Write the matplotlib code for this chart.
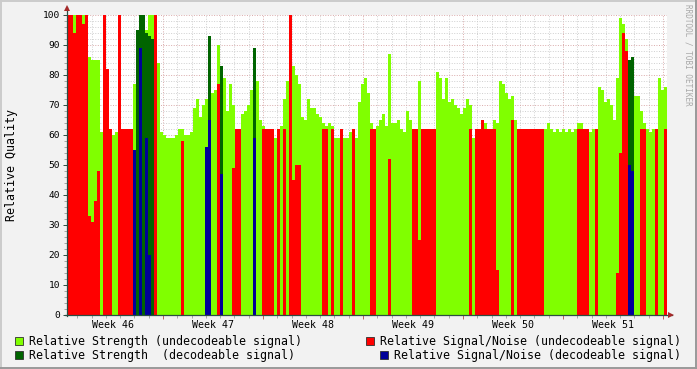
import numpy as np
import matplotlib
matplotlib.use("Agg")
import matplotlib.pyplot as plt
from matplotlib.lines import Line2D
from matplotlib.patches import Rectangle

W, H = 697, 369

# one value per column (~5 h), week 46 .. week 51
strength_undec = [
    100, 100, 100, 100, 100, 100, 100, 86, 85, 85,
    85, 61, 62, 0, 0, 60, 61, 0, 0, 0,
    0, 0, 77, 79, 90, 92, 95, 100, 100, 0,
    84, 61, 60, 59, 59, 59, 60, 62, 62, 60,
    60, 61, 69, 72, 66, 70, 72, 77, 74, 75,
    90, 80, 79, 68, 77, 70, 0, 0, 67, 68,
    70, 75, 78, 78, 65, 63, 0, 0, 0, 59,
    0, 63, 72, 78, 0, 83, 80, 77, 66, 65,
    72, 69, 69, 67, 66, 64, 63, 64, 63, 59,
    59, 0, 59, 59, 61, 0, 59, 71, 77, 79,
    74, 64, 0, 63, 65, 67, 63, 87, 64, 64,
    65, 62, 61, 68, 65, 62, 60, 78, 0, 0,
    0, 0, 0, 81, 79, 72, 79, 71, 72, 70,
    69, 67, 69, 72, 70, 59, 0, 0, 0, 64,
    0, 0, 65, 64, 78, 77, 74, 72, 73, 65,
    0, 0, 0, 0, 0, 0, 0, 0, 0, 62,
    64, 62, 61, 62, 61, 62, 61, 62, 61, 62,
    64, 64, 62, 0, 61, 62, 61, 76, 75, 71,
    72, 70, 65, 79, 99, 97, 92, 0, 0, 73,
    73, 68, 64, 62, 61, 62, 62, 79, 75, 76,
]
snr_undec = [
    100, 100, 94, 100, 100, 97, 100, 33, 31, 38,
    48, 0, 100, 82, 62, 0, 0, 100, 62, 62,
    62, 62, 0, 0, 0, 0, 0, 0, 0, 100,
    0, 0, 0, 0, 0, 0, 0, 0, 58, 0,
    0, 0, 0, 0, 0, 0, 0, 0, 0, 0,
    77, 0, 0, 0, 0, 49, 62, 62, 0, 0,
    0, 0, 0, 0, 0, 62, 62, 62, 62, 0,
    62, 0, 62, 0, 100, 45, 50, 50, 0, 0,
    0, 0, 0, 0, 0, 62, 62, 0, 62, 0,
    0, 62, 0, 0, 0, 62, 0, 0, 0, 0,
    0, 62, 62, 0, 0, 0, 0, 52, 0, 0,
    0, 0, 0, 0, 0, 62, 62, 25, 62, 62,
    62, 62, 62, 0, 0, 0, 0, 0, 0, 0,
    0, 0, 0, 0, 62, 0, 62, 62, 65, 62,
    62, 62, 62, 15, 0, 0, 0, 0, 65, 0,
    62, 62, 62, 62, 62, 62, 62, 62, 62, 0,
    0, 0, 0, 0, 0, 0, 0, 0, 0, 0,
    62, 62, 62, 62, 0, 0, 62, 0, 0, 0,
    0, 0, 0, 14, 54, 94, 88, 0, 0, 0,
    0, 62, 62, 0, 0, 0, 62, 0, 0, 62,
]
strength_dec = [0] * 200
snr_dec = [0] * 200
for i, v in {23: 95, 24: 100, 25: 100, 26: 94, 27: 93, 28: 92,
             47: 93, 51: 83, 62: 89, 187: 85, 188: 86}.items():
    strength_dec[i] = v
for i, v in {22: 55, 24: 89, 26: 59, 27: 20,
             46: 56, 47: 65, 51: 47, 62: 59, 187: 50, 188: 48}.items():
    snr_dec[i] = v

week_labels = ["Week 46", "Week 47", "Week 48", "Week 49", "Week 50", "Week 51"]
series_labels = [
    "Relative Strength (undecodeable signal)",
    "Relative Signal/Noise (undecodeable signal)",
    "Relative Strength  (decodeable signal)",
    "Relative Signal/Noise (decodeable signal)",
]
colors = ["#80FF00", "#FF0000", "#006400", "#000099"]

MONO = "DejaVu Sans Mono"
STEP = 0.21   # days per column
T0 = 0.28     # left edge, days after monday of week 46
edges = T0 + STEP * np.arange(len(strength_undec) + 1)


def fx(px):
    return px / W


def fy(py):
    return 1 - py / H


fig = plt.figure(figsize=(W / 100, H / 100), dpi=100, facecolor="#F2F2F2")
ax = fig.add_axes([fx(67), fy(315), 600 / W, 300 / H])
ax.set_facecolor("white")

for vals, c in zip([strength_undec, snr_undec, strength_dec, snr_dec], colors):
    ax.stairs(vals, edges, fill=True, color=c, lw=0)

ax.set_xlim(T0, T0 + 42)
ax.set_ylim(0, 100)
ax.set_axisbelow(True)

ax.set_xticks(np.arange(7, 43, 7))
ax.set_xticks(np.arange(1, 43, 1), minor=True)
ax.set_xticklabels([])
ax.set_yticks(np.arange(0, 101, 10))
ax.set_yticks(np.arange(0, 101, 2), minor=True)
ax.set_yticklabels([str(v) for v in range(0, 101, 10)], family=MONO, fontsize=6.8)

dots = (0, (1, 1.6))
ax.grid(which="minor", color="#CFCFCF", ls=dots, lw=0.7)
ax.grid(which="major", color="#D9A9A9", ls=dots, lw=0.7)

ax.tick_params(axis="y", which="major", length=3, width=0.7, color="#2C4D43", pad=2)
ax.tick_params(axis="y", which="minor", length=2, width=0.6, color="#9A9A9A")
ax.tick_params(axis="x", which="major", length=3, width=0.7, color="#C06060")
ax.tick_params(axis="x", which="minor", length=2, width=0.6, color="#9A9A9A")
for s in ax.spines.values():
    s.set_visible(False)

for k, lab in enumerate(week_labels):
    ax.text(3.5 + 7 * k, -0.033, lab, transform=ax.get_xaxis_transform(),
            ha="center", va="center", family=MONO, fontsize=7.2)

# axes with arrows
axis_col = "#2C4D43"
fig.add_artist(Line2D([fx(67), fx(67)], [fy(316), fy(7)], color=axis_col, lw=0.9))
fig.add_artist(Line2D([fx(65), fx(672)], [fy(315), fy(315)], color=axis_col, lw=0.9))
fig.add_artist(Line2D([fx(67)], [fy(8)], marker="^", ms=5, color="#A52A2A", mew=0))
fig.add_artist(Line2D([fx(671)], [fy(315)], marker=">", ms=5, color="#A52A2A", mew=0))

fig.text(fx(12), fy(165), "Relative Quality", rotation=90, ha="center", va="center",
         family=MONO, fontsize=8.4)
fig.text(fx(688), fy(4), "RRDTOOL / TOBI OETIKER", rotation=-90, ha="center", va="top",
         family=MONO, fontsize=5.5, color="#A8A8A8")

# legend
legend_pos = [(15, 341), (366, 341), (15, 355), (380, 355)]
for (lx, ly), lab, c in zip(legend_pos, series_labels, colors):
    fig.add_artist(Rectangle((fx(lx), fy(ly + 4)), 8 / W, 8 / H, transform=fig.transFigure,
                             facecolor=c, edgecolor="#303030", lw=0.6))
    fig.text(fx(lx + 14), fy(ly), lab, ha="left", va="center", family=MONO, fontsize=8.36)

# frame
fig.add_artist(Line2D([0, 1], [fy(0.5), fy(0.5)], color="#CBCBCB", lw=1.4))
fig.add_artist(Line2D([fx(0.5), fx(0.5)], [0, 1], color="#CBCBCB", lw=1.4))
fig.add_artist(Line2D([0, 1], [fy(368), fy(368)], color="#999999", lw=1.4))
fig.add_artist(Line2D([fx(696), fx(696)], [0, 1], color="#999999", lw=1.4))

fig.savefig("out.png", dpi=100, facecolor=fig.get_facecolor())
